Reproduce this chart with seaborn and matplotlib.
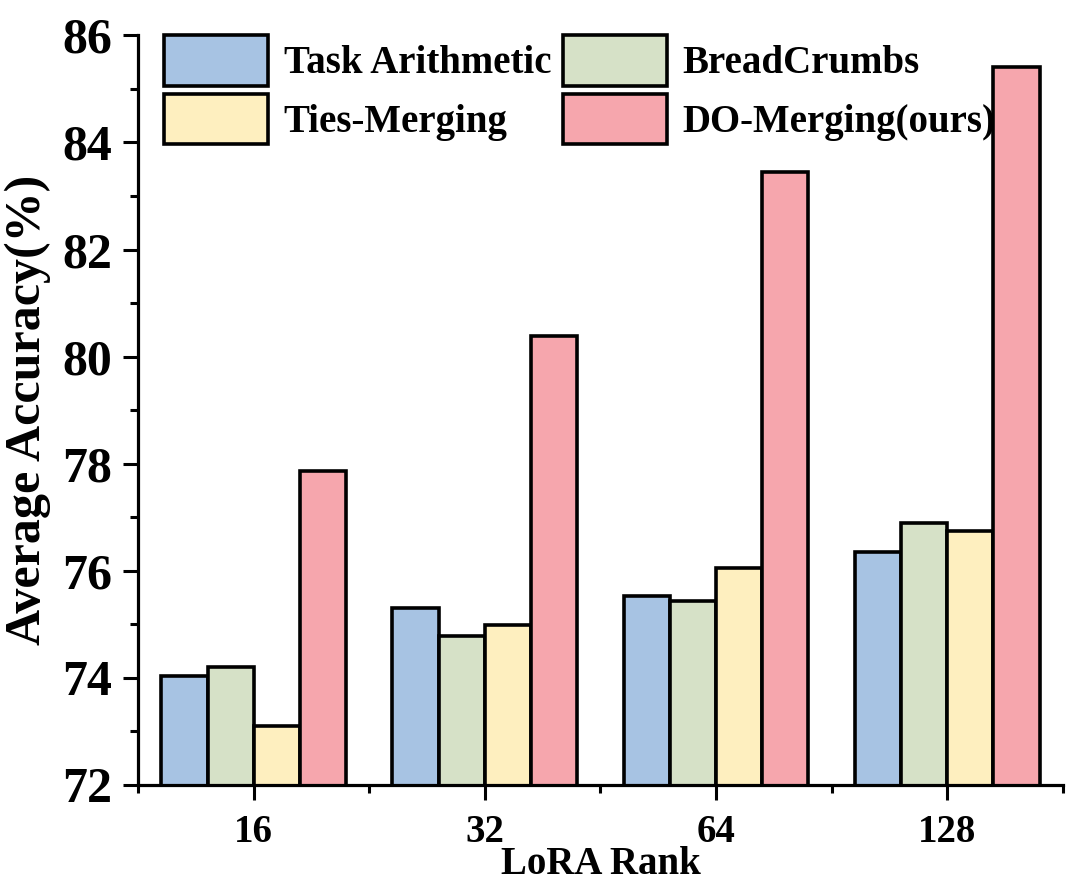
import matplotlib
matplotlib.use("Agg")
import matplotlib.pyplot as plt
import seaborn as sns
import pandas as pd
from matplotlib.ticker import MultipleLocator, FixedLocator

# ----------------------------
# Data
# ----------------------------
ranks = ["16", "32", "64", "128"]
methods = ["Task Arithmetic", "BreadCrumbs", "Ties-Merging", "DO-Merging(ours)"]
task_arithmetic = [74.04, 75.30, 75.53, 76.36]
breadcrumbs = [74.21, 74.79, 75.44, 76.89]
ties_merging = [73.10, 74.98, 76.06, 76.75]
do_merging = [77.86, 80.39, 83.44, 85.40]
colors = ["#A7C3E3", "#D6E1C7", "#FEEFBF", "#F6A6AD"]

rows = []
for name, vals in zip(methods, [task_arithmetic, breadcrumbs, ties_merging, do_merging]):
    for r, v in zip(ranks, vals):
        rows.append({"rank": r, "method": name, "acc": v})
df = pd.DataFrame(rows)

sns.set_style("ticks")
plt.rcParams["font.family"] = ["Liberation Serif", "DejaVu Serif"]
plt.rcParams["font.weight"] = "bold"
plt.rcParams["text.color"] = "black"
plt.rcParams["axes.labelcolor"] = "black"
plt.rcParams["xtick.color"] = "black"
plt.rcParams["ytick.color"] = "black"
plt.rcParams["axes.edgecolor"] = "black"

fig = plt.figure(figsize=(10.8, 8.84), dpi=100)
ax = fig.add_axes([0.128, 0.112, 0.856, 0.848])

sns.barplot(data=df, x="rank", y="acc", hue="method", order=ranks,
            hue_order=methods, palette=colors, saturation=1, edgecolor="black",
            linewidth=2.6, width=0.8, ax=ax, legend=False)

ax.set_ylim(72, 86)
ax.set_xlim(-0.5, 3.5)
ax.yaxis.set_major_locator(MultipleLocator(2))
ax.yaxis.set_minor_locator(MultipleLocator(1))
ax.xaxis.set_minor_locator(FixedLocator([-0.5, 0.5, 1.5, 2.5, 3.5]))

for side in ["top", "right"]:
    ax.spines[side].set_visible(False)
for side in ["left", "bottom"]:
    ax.spines[side].set_linewidth(2.3)

ax.tick_params(axis="both", which="major", length=11, width=2.2, direction="out")
ax.tick_params(axis="both", which="minor", length=6, width=2.2, direction="out")
ax.tick_params(axis="y", which="major", labelsize=36, pad=8)
ax.tick_params(axis="x", which="major", labelsize=28, pad=10)
for lab in ax.get_xticklabels() + ax.get_yticklabels():
    lab.set_fontweight("bold")

ax.set_xlabel("LoRA Rank", fontsize=28, fontweight="bold", labelpad=-4)
ax.set_ylabel("Average Accuracy(%)", fontsize=36, fontweight="bold")
ax.yaxis.set_label_coords(-0.094, 0.5)

# legend, filled row by row
handles = [plt.Rectangle((0, 0), 1, 1, facecolor=c, edgecolor="black", linewidth=2.6)
           for c in colors]
order = [0, 2, 1, 3]
ax.legend([handles[i] for i in order], [methods[i] for i in order], ncol=2,
          loc="upper left", bbox_to_anchor=(0.028, 1.0),
          frameon=False, prop={"size": 28, "weight": "bold"},
          handlelength=2.67, handleheight=1.62, labelspacing=0.2,
          handletextpad=0.4, columnspacing=0.3, borderaxespad=0.0,
          borderpad=0.0)

plt.savefig("out.png", dpi=100)
plt.close()
